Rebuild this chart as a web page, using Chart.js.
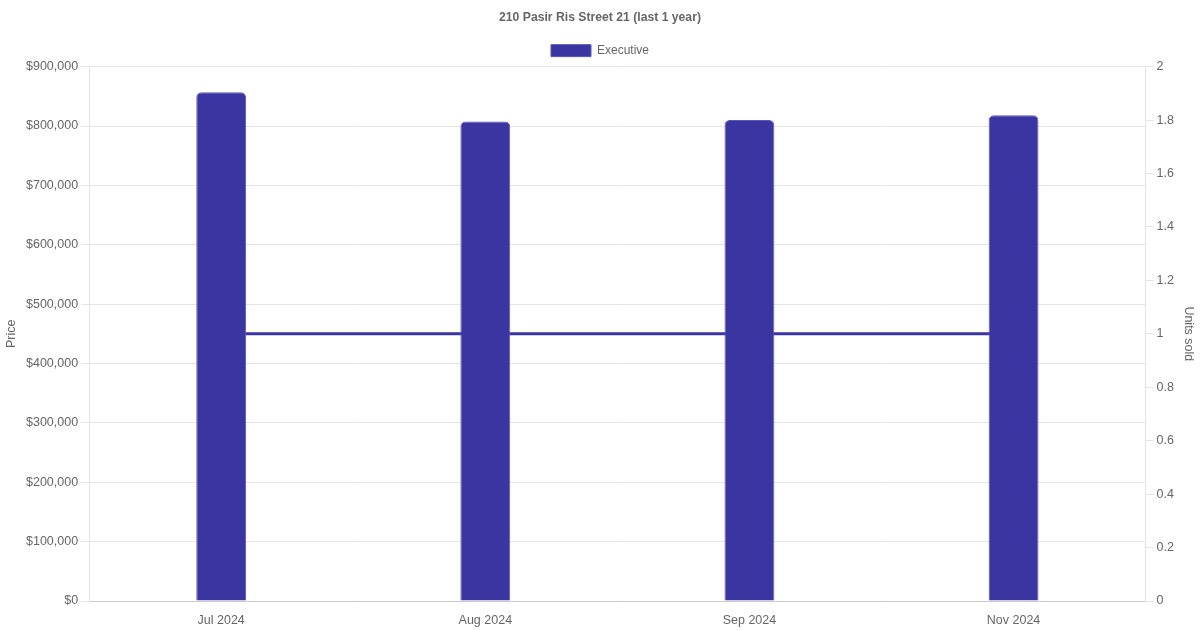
<!DOCTYPE html>
<html>
<head>
<meta charset="utf-8">
<script src="https://cdn.jsdelivr.net/npm/chart.js@4/dist/chart.umd.min.js"></script>
<style>
  html, body { margin: 0; padding: 0; background: #fff; }
  #wrap { width: 1200px; height: 630px; }
</style>
</head>
<body>
<div id="wrap"><canvas id="chart"></canvas></div>
<script>
// chart data
const months = ['Jul 2024', 'Aug 2024', 'Sep 2024', 'Nov 2024'];
const prices = [857000, 807500, 810000, 818000];
const unitsSold = [1, 1, 1, 1];

const barColor = '#3a35a0';

Chart.defaults.font.family = '"Liberation Sans", Arial, sans-serif';
Chart.defaults.font.size = 12;
Chart.defaults.color = '#666';

const tickFont = { size: 12.5 };

const ctx = document.getElementById('chart').getContext('2d');
new Chart(ctx, {
  data: {
    labels: months,
    datasets: [
      {
        type: 'bar',
        label: 'Executive',
        data: prices,
        yAxisID: 'y',
        backgroundColor: barColor,
        borderColor: '#5a56bd',
        borderWidth: 1,
        borderRadius: 5,
        borderSkipped: 'bottom',
        categoryPercentage: 0.8,
        barPercentage: 0.236,
        order: 1
      },
      {
        type: 'line',
        label: 'Units sold',
        data: unitsSold,
        yAxisID: 'y1',
        borderColor: barColor,
        backgroundColor: barColor,
        borderWidth: 3,
        pointRadius: 0,
        fill: false,
        order: 2
      }
    ]
  },
  options: {
    responsive: true,
    maintainAspectRatio: false,
    animation: false,
    layout: { padding: { left: 0, right: 0, top: 0, bottom: -2 } },
    plugins: {
      title: {
        display: true,
        text: '210 Pasir Ris Street 21 (last 1 year)',
        color: '#666',
        font: { size: 12.2, weight: 'bold' },
        padding: { top: 10, bottom: 10 }
      },
      legend: {
        labels: {
          boxWidth: 40,
          boxHeight: 12,
          filter: item => item.text === 'Executive'
        }
      },
      tooltip: { enabled: false }
    },
    scales: {
      x: {
        grid: { display: false },
        border: { color: '#ccc' },
        ticks: { padding: 4, font: tickFont }
      },
      y: {
        position: 'left',
        min: 0,
        max: 900000,
        ticks: {
          stepSize: 100000,
          padding: 3,
          font: tickFont,
          callback: v => '$' + v.toLocaleString('en-US')
        },
        grid: { color: '#e5e5e5', tickLength: 8 },
        border: { color: '#e5e5e5' },
        title: { display: true, text: 'Price', color: '#666', font: tickFont }
      },
      y1: {
        position: 'right',
        min: 0,
        max: 2,
        ticks: {
          stepSize: 0.2,
          padding: 3,
          font: tickFont,
          callback: v => String(Math.round(v * 10) / 10)
        },
        grid: { drawOnChartArea: false, color: '#e5e5e5', tickLength: 8 },
        border: { color: '#e5e5e5' },
        title: { display: true, text: 'Units sold', color: '#666', font: tickFont }
      }
    }
  }
});
</script>
</body>
</html>
